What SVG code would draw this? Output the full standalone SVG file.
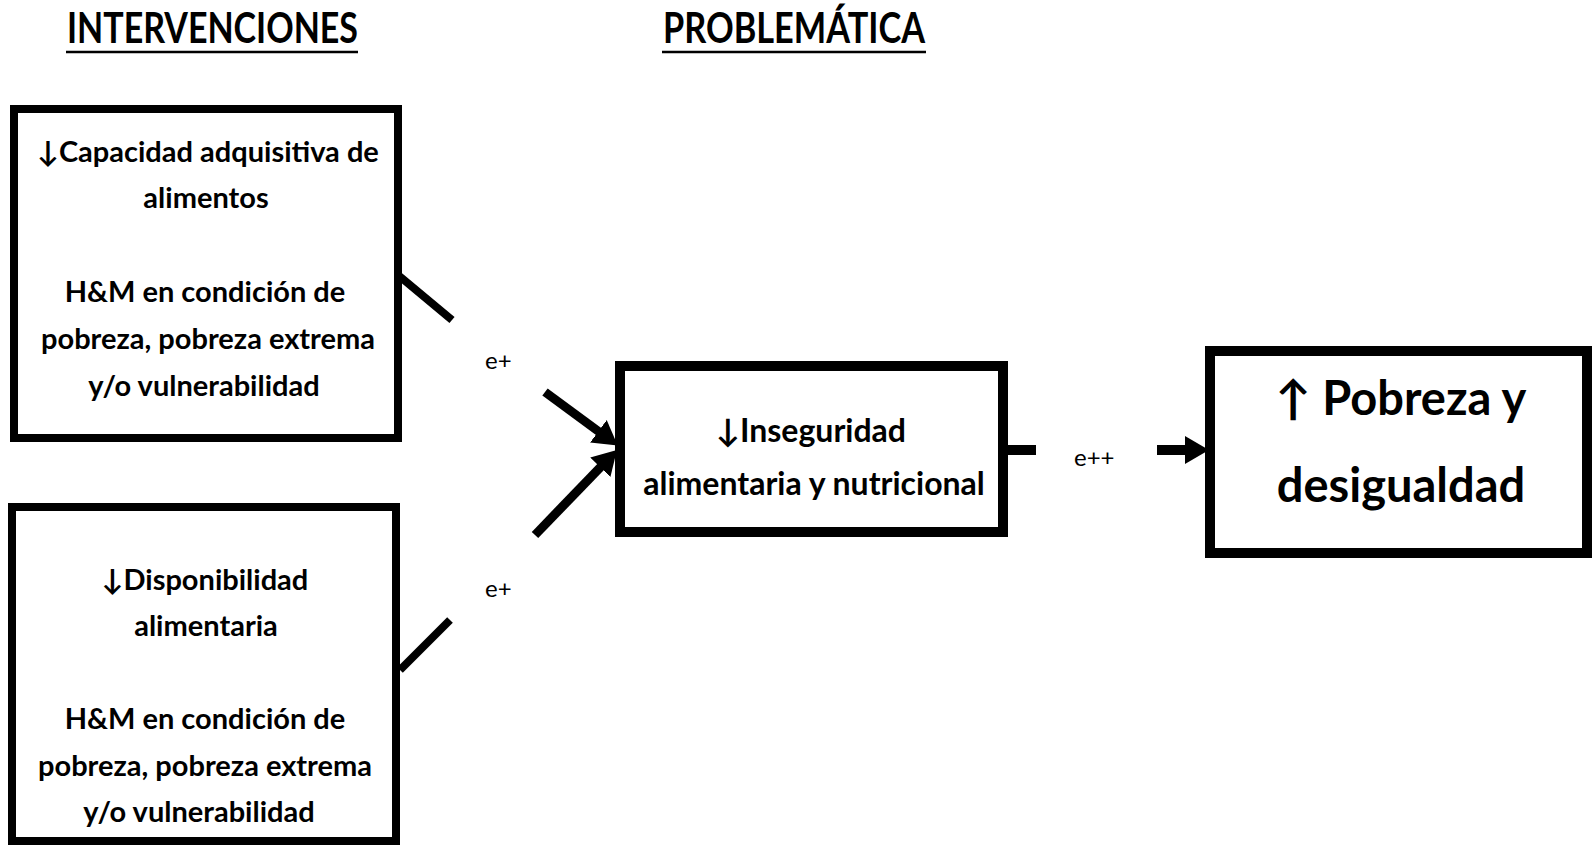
<svg xmlns="http://www.w3.org/2000/svg" width="1595" height="847" viewBox="0 0 1595 847">
<style>
  .box { fill: #fff; stroke: #000; }
  .t { font-family: Lato, "Open Sans", "Liberation Sans", sans-serif; font-weight: 700; fill: #000; text-anchor: middle; }
  .s { font-size: 29px; }
  .lbl { font-family: Lato, "Liberation Sans", sans-serif; font-weight: 400; fill: #000; font-size: 24px; }
  .ttl { font-family: Lato, "Liberation Sans", sans-serif; font-weight: 700; fill: #000; font-size: 42px; }
  .con { stroke: #000; fill: none; stroke-linecap: butt; }
</style>
<defs>
  <marker id="ah" markerUnits="userSpaceOnUse" markerWidth="26" markerHeight="30" refX="2" refY="14" orient="auto" viewBox="0 0 26 28">
    <path d="M0,0 L24,14 L0,28 z" fill="#000"/>
  </marker>
</defs>
<rect width="1595" height="847" fill="#fff"/>

<g id="titles">
  <text class="ttl" x="67" y="43" textLength="291" lengthAdjust="spacingAndGlyphs">INTERVENCIONES</text>
  <line x1="66" y1="52" x2="358" y2="52" stroke="#000" stroke-width="2.5"/>
  <text class="ttl" x="663" y="43" textLength="262" lengthAdjust="spacingAndGlyphs">PROBLEMÁTICA</text>
  <line x1="662" y1="52" x2="926" y2="52" stroke="#000" stroke-width="2.5"/>
</g>

<g id="node-capacidad">
  <rect class="box" x="14" y="109" width="384" height="329" stroke-width="8"/>
  <text class="t s" x="208" y="162">↓Capacidad adquisitiva de</text>
  <text class="t s" x="206" y="208">alimentos</text>
  <text class="t s" x="205" y="302">H&amp;M en condición de</text>
  <text class="t s" x="208" y="349">pobreza, pobreza extrema</text>
  <text class="t s" x="204" y="396">y/o vulnerabilidad</text>
</g>

<g id="node-disponibilidad">
  <rect class="box" x="12" y="507" width="384" height="334" stroke-width="8"/>
  <text class="t s" x="205" y="590">↓Disponibilidad</text>
  <text class="t s" x="206" y="636">alimentaria</text>
  <text class="t s" x="205" y="729">H&amp;M en condición de</text>
  <text class="t s" x="205" y="776">pobreza, pobreza extrema</text>
  <text class="t s" x="199" y="822">y/o vulnerabilidad</text>
</g>

<g id="node-inseguridad">
  <rect class="box" x="620" y="366" width="383" height="166" stroke-width="10"/>
  <text class="t" font-size="32" x="811" y="442">↓Inseguridad</text>
  <text class="t" font-size="32" x="814" y="495">alimentaria y nutricional</text>
</g>

<g id="node-pobreza">
  <rect class="box" x="1210" y="351" width="377" height="202" stroke-width="10"/>
  <text class="t" font-size="47" x="1401" y="415">↑ Pobreza y</text>
  <text class="t" font-size="47" x="1401" y="502">desigualdad</text>
</g>

<g id="connectors">
  <line class="con" x1="398" y1="275" x2="452" y2="320" stroke-width="8"/>
  <line class="con" x1="545" y1="392" x2="600" y2="432.5" stroke-width="9" marker-end="url(#ah)"/>
  <line class="con" x1="400" y1="670" x2="450" y2="620" stroke-width="8"/>
  <line class="con" x1="535" y1="535" x2="601.7" y2="465.8" stroke-width="9" marker-end="url(#ah)"/>
  <line class="con" x1="1003" y1="450" x2="1036" y2="450" stroke-width="10"/>
  <line class="con" x1="1157" y1="450" x2="1187" y2="450" stroke-width="10" marker-end="url(#ah)"/>
  <text class="lbl" x="485" y="369">e+</text>
  <text class="lbl" x="485" y="597">e+</text>
  <text class="lbl" x="1074" y="466">e++</text>
</g>
</svg>
